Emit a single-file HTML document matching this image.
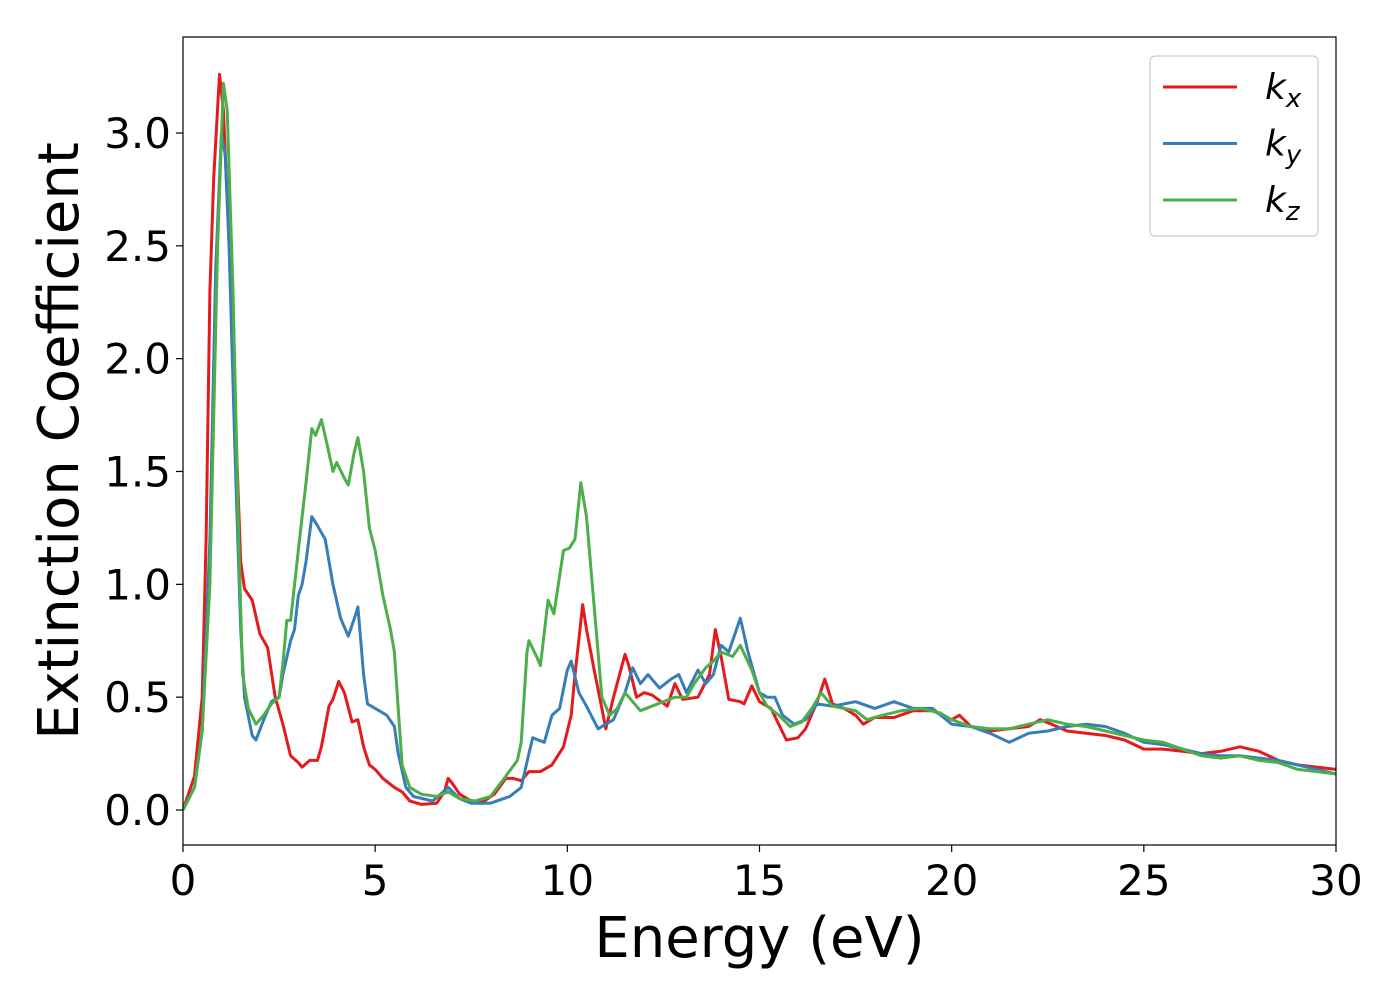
<!DOCTYPE html>
<html><head><meta charset="utf-8"><style>
body{margin:0;background:#fff}
svg text{font-family:"DejaVu Sans","Liberation Sans",sans-serif}
</style></head><body>
<svg id="chart" width="1400" height="1000" xmlns="http://www.w3.org/2000/svg">
<rect width="1400" height="1000" fill="#fff"/>
<g id="plot"></g>
</svg>
<script>
const kxE=[0,0.3,0.5,0.6,0.7,0.8,0.95,1.05,1.2,1.35,1.5,1.6,1.8,2.0,2.2,2.4,2.6,2.8,3.0,3.1,3.3,3.5,3.6,3.8,3.9,4.05,4.2,4.4,4.55,4.7,4.85,5.0,5.2,5.5,5.7,5.9,6.2,6.6,6.8,6.9,7.0,7.2,7.5,7.8,8.1,8.4,8.6,8.8,9.0,9.3,9.6,9.9,10.1,10.2,10.4,10.5,10.7,10.9,11.0,11.2,11.5,11.6,11.8,12.0,12.2,12.6,12.8,13.0,13.4,13.7,13.85,14.0,14.2,14.5,14.6,14.8,15.0,15.3,15.5,15.7,16.0,16.2,16.5,16.7,16.9,17.2,17.5,17.7,18,18.5,19,19.5,20,20.2,20.5,21,21.5,22,22.3,22.6,23,23.5,24,24.5,25,25.5,26,26.5,27,27.5,28,28.5,29,29.5,30];
const kxV=[0,0.15,0.5,1.2,2.3,2.8,3.26,3.1,2.5,1.8,1.1,0.98,0.93,0.78,0.72,0.5,0.38,0.24,0.21,0.19,0.22,0.22,0.28,0.46,0.49,0.57,0.52,0.39,0.40,0.28,0.20,0.18,0.14,0.10,0.08,0.04,0.025,0.03,0.08,0.14,0.12,0.07,0.04,0.035,0.07,0.14,0.14,0.13,0.17,0.17,0.2,0.28,0.42,0.6,0.91,0.8,0.62,0.45,0.36,0.5,0.69,0.64,0.5,0.52,0.51,0.46,0.56,0.49,0.5,0.6,0.8,0.68,0.49,0.48,0.47,0.55,0.48,0.45,0.38,0.31,0.32,0.36,0.48,0.58,0.47,0.45,0.42,0.38,0.41,0.41,0.44,0.44,0.40,0.42,0.37,0.35,0.36,0.37,0.4,0.38,0.35,0.34,0.33,0.31,0.27,0.27,0.26,0.25,0.26,0.28,0.26,0.22,0.2,0.19,0.18];
const kyE=[0,0.3,0.5,0.7,0.85,1.0,1.1,1.2,1.35,1.5,1.6,1.8,1.9,2.1,2.3,2.5,2.6,2.8,2.9,3.0,3.1,3.2,3.35,3.5,3.7,3.9,4.1,4.3,4.5,4.55,4.7,4.8,5.0,5.3,5.5,5.6,5.8,6.0,6.5,6.9,7.2,7.5,8,8.5,8.8,9.0,9.1,9.4,9.6,9.8,10.0,10.1,10.3,10.5,10.8,11.0,11.2,11.5,11.7,11.9,12.1,12.4,12.7,12.9,13.1,13.4,13.6,13.8,14.0,14.2,14.5,14.7,15.0,15.2,15.4,15.6,15.9,16.2,16.5,16.9,17.2,17.5,18,18.5,19,19.5,20,20.5,21,21.5,22,22.5,23,23.5,24,24.5,25,25.5,26,26.5,27,27.5,28,28.5,29,29.5,30];
const kyV=[0,0.1,0.35,1.2,2.4,3.0,2.9,2.5,1.6,0.8,0.5,0.33,0.31,0.4,0.48,0.5,0.6,0.75,0.8,0.95,1.0,1.1,1.3,1.26,1.2,1.0,0.85,0.77,0.87,0.9,0.6,0.47,0.45,0.42,0.37,0.25,0.1,0.06,0.04,0.1,0.05,0.03,0.03,0.06,0.1,0.25,0.32,0.3,0.42,0.45,0.62,0.66,0.52,0.46,0.36,0.38,0.4,0.52,0.63,0.56,0.6,0.54,0.58,0.6,0.52,0.62,0.56,0.6,0.73,0.7,0.85,0.7,0.52,0.5,0.5,0.42,0.38,0.4,0.47,0.46,0.47,0.48,0.45,0.48,0.45,0.45,0.38,0.37,0.34,0.3,0.34,0.35,0.37,0.38,0.37,0.34,0.3,0.29,0.27,0.25,0.24,0.24,0.23,0.22,0.2,0.18,0.16];
const kzE=[0,0.3,0.5,0.7,0.9,1.05,1.15,1.3,1.45,1.55,1.7,1.9,2.1,2.3,2.5,2.6,2.7,2.8,3.0,3.2,3.35,3.45,3.6,3.75,3.9,4.0,4.2,4.3,4.45,4.55,4.7,4.85,5.0,5.2,5.4,5.5,5.6,5.7,5.9,6.2,6.6,6.9,7.2,7.6,8,8.4,8.7,8.8,8.95,9.0,9.2,9.3,9.5,9.65,9.9,10.05,10.2,10.35,10.5,10.7,10.9,11.1,11.3,11.5,11.7,11.9,12.2,12.5,12.8,13.1,13.3,13.6,13.8,14.0,14.3,14.5,14.8,15.0,15.2,15.5,15.8,16.1,16.4,16.6,16.9,17.2,17.5,17.8,18.2,18.7,19.2,19.7,20,20.5,21,21.5,22,22.5,23,23.5,24,24.5,25,25.5,26,26.5,27,27.5,28,28.5,29,29.5,30];
const kzV=[0,0.1,0.35,1.0,2.5,3.22,3.1,2.3,1.2,0.6,0.45,0.38,0.42,0.47,0.5,0.65,0.84,0.84,1.15,1.45,1.69,1.66,1.73,1.62,1.5,1.54,1.47,1.44,1.58,1.65,1.5,1.25,1.15,0.95,0.8,0.7,0.45,0.2,0.1,0.07,0.06,0.08,0.05,0.04,0.06,0.15,0.22,0.3,0.7,0.75,0.68,0.64,0.93,0.87,1.15,1.16,1.2,1.45,1.3,0.9,0.5,0.42,0.45,0.52,0.48,0.44,0.46,0.48,0.5,0.5,0.56,0.63,0.66,0.7,0.68,0.73,0.62,0.52,0.46,0.42,0.37,0.39,0.46,0.52,0.46,0.45,0.44,0.4,0.42,0.44,0.45,0.43,0.4,0.37,0.36,0.36,0.38,0.4,0.38,0.37,0.35,0.33,0.31,0.3,0.27,0.24,0.23,0.24,0.22,0.21,0.18,0.17,0.16];
const xTicks=[0,5,10,15,20,25,30];
const yTicks=[0.0,0.5,1.0,1.5,2.0,2.5,3.0];
const yTickLabels=["0.0","0.5","1.0","1.5","2.0","2.5","3.0"];

const NS="http://www.w3.org/2000/svg";
const L=183,R=1336,T=37,B=845;
const X=e=>L+(e-0)/(30-0)*(R-L);
const Y=v=>810-v*225.67;
const g=document.getElementById('plot');
function mk(t,a,p){const el=document.createElementNS(NS,t);for(const k in a)el.setAttribute(k,a[k]);(p||g).appendChild(el);return el;}
const series=[[kxE,kxV,'#e41a1c','kx'],[kyE,kyV,'#377eb8','ky'],[kzE,kzV,'#4daf4a','kz']];
const clip=mk('clipPath',{id:'cp'});mk('rect',{x:L,y:T,width:R-L,height:B-T},clip);
series.forEach(s=>{
  const pts=s[0].map((e,i)=>X(e).toFixed(1)+','+Y(s[1][i]).toFixed(1)).join(' ');
  const pl=mk('polyline',{points:pts,fill:'none',stroke:s[2],'stroke-width':3,'stroke-linejoin':'round','clip-path':'url(#cp)'});
  
  
});
const fr=mk('rect',{x:L,y:T,width:R-L,height:B-T,fill:'none',stroke:'#000','stroke-width':1.2});


xTicks.forEach(t=>{
  mk('line',{x1:X(t),x2:X(t),y1:B,y2:B+7,stroke:'#000','stroke-width':1.2});
  const tx=mk('text',{x:X(t),y:B+50,'text-anchor':'middle','font-size':42});
  tx.textContent=t;
  
  
});
yTicks.forEach((t,i)=>{
  mk('line',{x1:L-7,x2:L,y1:Y(t),y2:Y(t),stroke:'#000','stroke-width':1.2});
  const tx=mk('text',{x:L-12,y:Y(t)+15,'text-anchor':'end','font-size':42});
  tx.textContent=yTickLabels[i];
  
  
});
const xl=mk('text',{x:(L+R)/2,y:957,'text-anchor':'middle','font-size':56});
xl.textContent='Energy (eV)';


const yl=mk('text',{x:0,y:0,'text-anchor':'middle','font-size':56,transform:'translate(78,441) rotate(-90)'});
yl.textContent='Extinction Coefficient';


const lg=mk('g',{});


mk('rect',{x:1150,y:56,width:168,height:180,rx:5,fill:'#fff',stroke:'#ccc','stroke-width':1.2},lg);
const subs=['x','y','z'];
series.forEach((s,i)=>{
  const yy=87+i*56.5;
  mk('line',{x1:1163,x2:1237,y1:yy,y2:yy,stroke:s[2],'stroke-width':3},lg);
  const tx=mk('text',{x:1265,y:yy+12,'font-size':36,'font-style':'italic'},lg);
  tx.innerHTML='k<tspan font-size="26" dy="8">'+subs[i]+'</tspan>';
  
  
});
</script>
</body></html>
